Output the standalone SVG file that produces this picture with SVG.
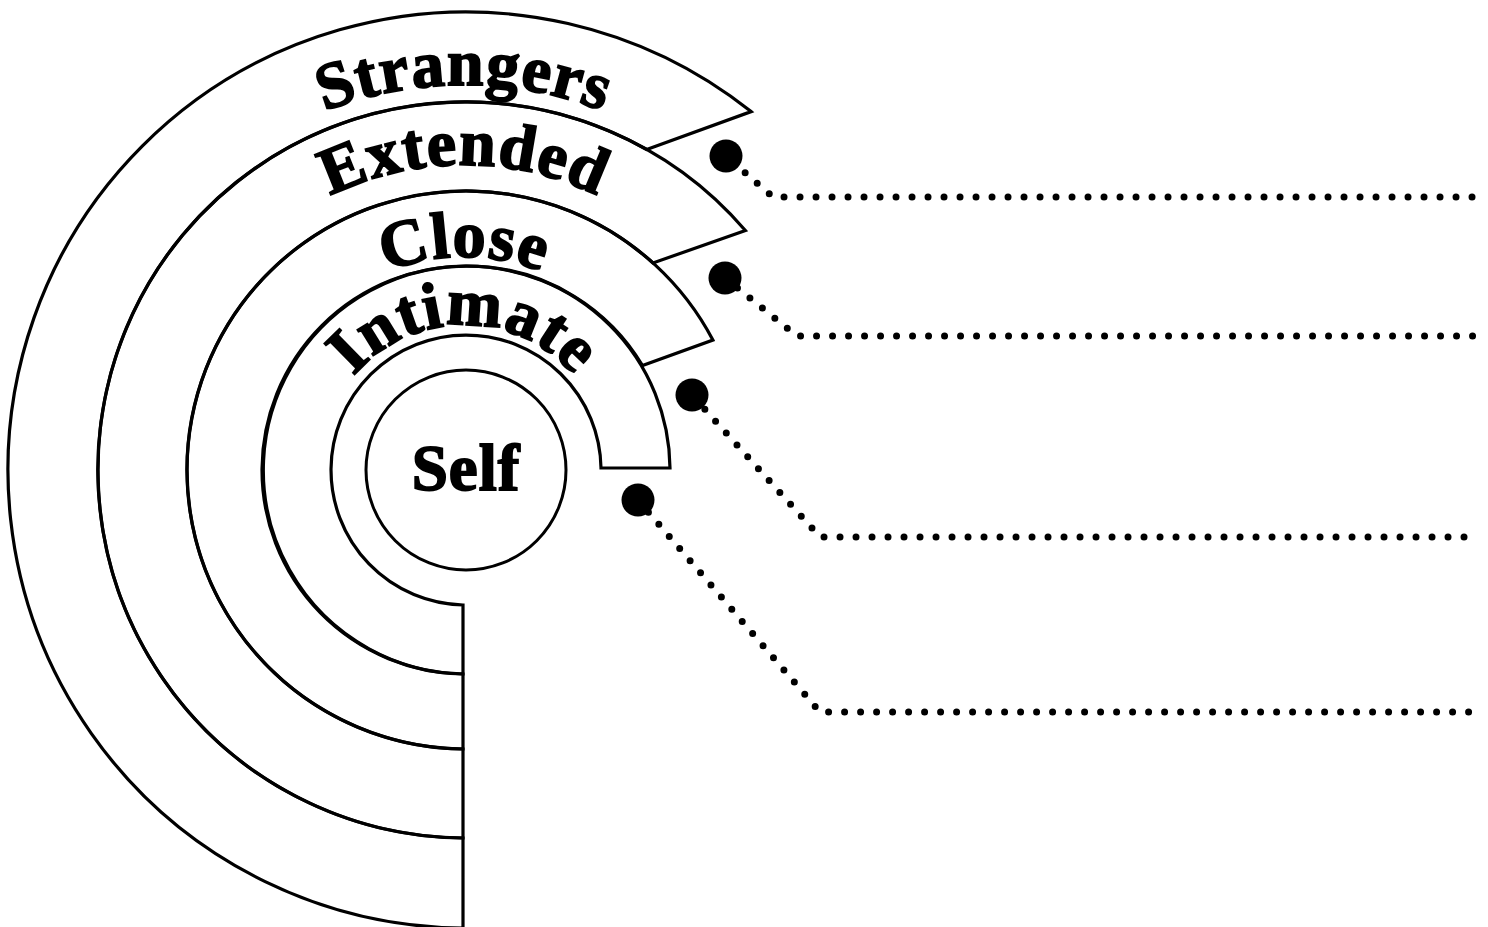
<svg xmlns="http://www.w3.org/2000/svg" width="1488" height="927" viewBox="0 0 1488 927">
  <style>
    .band { fill: none; stroke: #000; stroke-width: 3.2; stroke-linejoin: miter; }
    .lbl { font-family: "Liberation Serif", "DejaVu Serif", serif; font-weight: bold; font-size: 66px; letter-spacing: 1.2px; fill: #000; stroke: #000; stroke-width: 1.8; }
    .dots { fill: none; stroke: #000; stroke-width: 7; stroke-linecap: round; stroke-dasharray: 0 16; marker-start: url(#bigdot); }
  </style>
  <defs>
    <marker id="bigdot" markerUnits="userSpaceOnUse" markerWidth="34" markerHeight="34" refX="17" refY="17" orient="0">
      <circle cx="17" cy="17" r="16.5" fill="#000"/>
    </marker>
    <path id="tp-strangers" d="M 79 470 A 385 385 0 0 1 849 470"/>
    <path id="tp-extended" d="M 159 470 A 305 305 0 0 1 769 470"/>
    <path id="tp-close" d="M 251 470 A 213 213 0 0 1 677 470"/>
    <path id="tp-intimate" d="M 319 470 A 145 145 0 0 1 609 470"/>
  </defs>
  <rect width="1488" height="927" fill="#fff"/>

  <g id="strangers">
    <path class="band" d="M 751.1 111.6 A 458 458 0 1 0 463 928 V 838 A 368 368 0 1 1 646.7 149.5 Z"/>
    <text class="lbl"><textPath href="#tp-strangers" startOffset="50%" text-anchor="middle">Strangers</textPath></text>
  </g>
  <g id="extended">
    <path class="band" d="M 745.4 230.5 A 368 368 0 1 0 463 838 V 749 A 279 279 0 1 1 653 263 Z"/>
    <text class="lbl"><textPath href="#tp-extended" startOffset="50%" text-anchor="middle">Extended</textPath></text>
  </g>
  <g id="close">
    <path class="band" d="M 712.9 340 A 279 279 0 1 0 463 749 V 674 A 204 204 0 1 1 642.5 365.5 Z"/>
    <text class="lbl"><textPath href="#tp-close" startOffset="50%" text-anchor="middle">Close</textPath></text>
  </g>
  <g id="intimate">
    <path class="band" d="M 601 468 H 670 A 204 204 0 1 0 463 674 V 605 A 135 135 0 1 1 601 468 Z"/>
    <text class="lbl"><textPath href="#tp-intimate" startOffset="50%" text-anchor="middle">Intimate</textPath></text>
  </g>
  <g id="self">
    <circle cx="466" cy="470" r="100" fill="none" stroke="#000" stroke-width="3"/>
    <text x="466" y="490" text-anchor="middle" font-family="'Liberation Serif', 'DejaVu Serif', serif" font-weight="bold" font-size="65" letter-spacing="1" stroke="#000" stroke-width="1.8">Self</text>
  </g>

  <g id="connectors">
    <path class="dots" stroke-dashoffset="6.6" d="M 726 156 L 773 197 H 1474"/>
    <path class="dots" d="M 725 278 L 797 336 H 1474"/>
    <path class="dots" stroke-dashoffset="12.8" d="M 692 395 L 820 537 H 1467"/>
    <path class="dots" d="M 638 500 L 820 712 H 1470"/>
  </g>
</svg>
